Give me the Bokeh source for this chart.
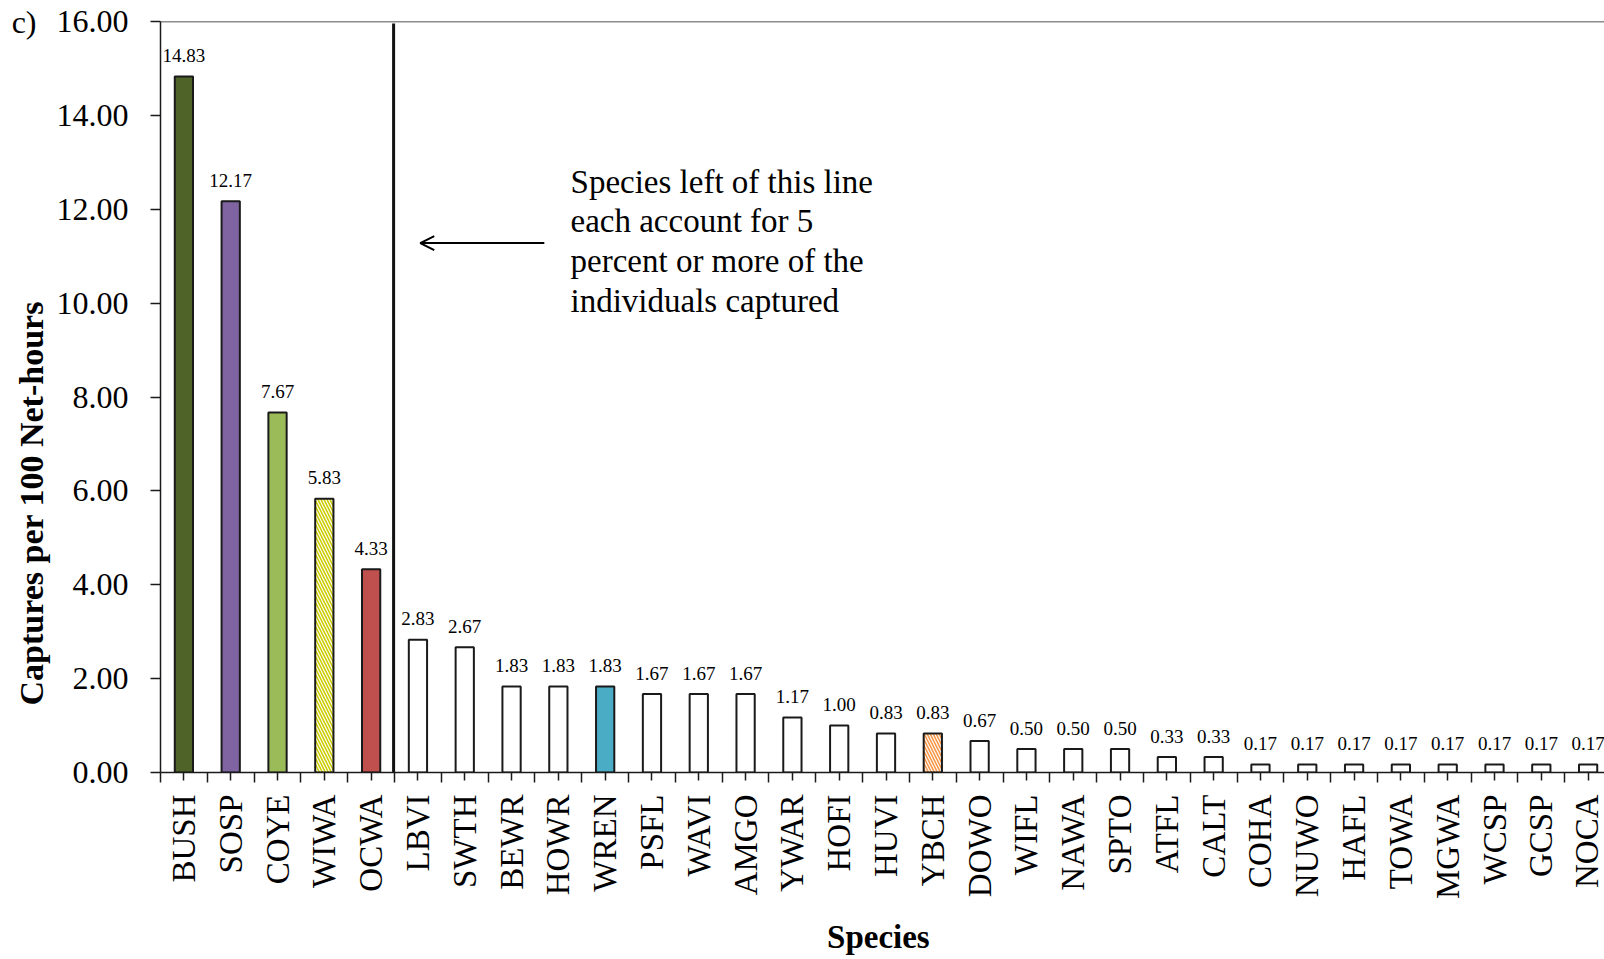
import math

from bokeh.embed import file_html
from bokeh.resources import INLINE
from bokeh.plotting import figure
from bokeh.models import (ColumnDataSource, Range1d, FixedTicker, NumeralTickFormatter,
                          Span, Arrow, OpenHead, Label, LinearAxis)
from bokeh.core.properties import value

# Mist-net capture rates by species (captures per 100 net-hours)
species = ["BUSH", "SOSP", "COYE", "WIWA", "OCWA", "LBVI", "SWTH", "BEWR", "HOWR", "WREN",
           "PSFL", "WAVI", "AMGO", "YWAR", "HOFI", "HUVI", "YBCH", "DOWO", "WIFL", "NAWA",
           "SPTO", "ATFL", "CALT", "COHA", "NUWO", "HAFL", "TOWA", "MGWA", "WCSP", "GCSP", "NOCA"]
captures = [14.83, 12.17, 7.67, 5.83, 4.33, 2.83, 2.67, 1.83, 1.83, 1.83,
            1.67, 1.67, 1.67, 1.17, 1.00, 0.83, 0.83, 0.67, 0.50, 0.50,
            0.50, 0.33, 0.33, 0.17, 0.17, 0.17, 0.17, 0.17, 0.17, 0.17, 0.17]
y_ticks = [0, 2, 4, 6, 8, 10, 12, 14, 16]

# highlighted species get their own fill; the rest are plain white bars
fills = {"BUSH": "#4F6228", "SOSP": "#8064A2", "COYE": "#9BBB59", "OCWA": "#C0504D", "WREN": "#4BACC6"}
hatches = {"WIWA": "#CCCC00", "YBCH": "#F79646"}

note_lines = ["Species left of this line", "each account for 5",
              "percent or more of the", "individuals captured"]

FONT = "Liberation Serif"
NBSP = "\u00a0"

xs = list(range(len(species)))
src = ColumnDataSource(dict(
    x=xs,
    top=captures,
    fill=[fills.get(s, "white") for s in species],
    hatch=[("left_diagonal_line" if s in hatches else " ") for s in species],
    hcolor=[hatches.get(s, "black") for s in species],
    label=[f"{v:.2f}" for v in captures],
))

p = figure(width=1604, height=959, output_backend="svg", toolbar_location=None,
           x_range=Range1d(-0.5, 30.35), y_range=Range1d(0, 16),
           min_border_left=160, min_border_right=0, min_border_top=21, min_border_bottom=187)
p.outline_line_color = None
p.grid.grid_line_color = None
p.background_fill_color = "white"
p.border_fill_color = "white"

p.vbar(x="x", top="top", width=0.39, bottom=0, source=src,
       fill_color="fill", line_color="#1a1a1a", line_width=2,
       hatch_pattern="hatch", hatch_color="hcolor", hatch_weight=1.6, hatch_scale=6)

p.text(x="x", y="top", text="label", source=src, text_align="center",
       text_baseline="alphabetic", y_offset=-21,
       text_font=value(FONT), text_font_size="19px", text_color="black")

# top border of the plotting area
p.add_layout(Span(location=16, dimension="width", line_color="#1a1a1a", line_width=1.5))

# divider after the species that each make up at least 5 percent of captures
p.segment(x0=[4.48], y0=[0], x1=[4.48], y1=[15.96], line_color="#111111", line_width=3)

p.add_layout(Arrow(end=OpenHead(size=14, line_width=2, line_color="black"),
                   x_start=7.70, y_start=11.28, x_end=5.05, y_end=11.28,
                   line_width=2, line_color="black"))

for i, line in enumerate(note_lines):
    p.add_layout(Label(x=8.26, y=12.59 - 0.845 * i, text=line, text_font=FONT,
                       text_font_size="33px", text_baseline="alphabetic",
                       text_align="left", text_color="black"))

# y axis
ya = p.yaxis[0]
ya.ticker = FixedTicker(ticks=y_ticks)
ya.formatter = NumeralTickFormatter(format="0.00")
ya.major_tick_out = 10
ya.major_tick_in = 0
ya.minor_tick_out = 0
ya.minor_tick_in = 0
ya.axis_line_width = 1.5
ya.major_tick_line_width = 1.5
ya.axis_line_color = "#1a1a1a"
ya.major_tick_line_color = "#1a1a1a"
ya.major_label_text_font = FONT
ya.major_label_text_font_size = "32px"
ya.major_label_text_color = "black"
ya.major_label_standoff = 22
ya.axis_label = "Captures per 100 Net-hours" + NBSP * 25
ya.axis_label_text_font = FONT
ya.axis_label_text_font_size = "34px"
ya.axis_label_text_font_style = "bold"
ya.axis_label_text_color = "black"
ya.axis_label_standoff = 4

# panel tag in the top-left corner, carried by a bare outer axis
tag_axis = LinearAxis(ticker=FixedTicker(ticks=[16]), major_label_overrides={16: "c)"},
                      axis_line_color=None, major_tick_line_color=None,
                      minor_tick_line_color=None, major_tick_out=0, major_tick_in=0,
                      minor_tick_out=0, minor_tick_in=0, major_label_standoff=-27,
                      major_label_text_font=FONT, major_label_text_font_size="32px",
                      major_label_text_color="black")
p.add_layout(tag_axis, "left")

# x axis: labels at bar centres, short separators between categories
xa = p.xaxis[0]
xa.ticker = FixedTicker(ticks=xs, minor_ticks=[i - 0.5 for i in range(len(species) + 1)])
xa.major_label_overrides = {i: s for i, s in enumerate(species)}
xa.major_label_orientation = math.pi / 2
xa.major_tick_out = 8
xa.major_tick_in = 0
xa.minor_tick_out = 10
xa.minor_tick_in = 0
xa.axis_line_width = 1.5
xa.major_tick_line_width = 1.5
xa.minor_tick_line_width = 1.5
xa.axis_line_color = "#1a1a1a"
xa.major_tick_line_color = "#1a1a1a"
xa.minor_tick_line_color = "#1a1a1a"
xa.major_label_text_font = FONT
xa.major_label_text_font_size = "33px"
xa.major_label_text_color = "black"
xa.major_label_standoff = 12
xa.axis_label = "Species" + NBSP
xa.axis_label_text_font = FONT
xa.axis_label_text_font_size = "33px"
xa.axis_label_text_font_style = "bold"
xa.axis_label_text_color = "black"
xa.axis_label_standoff = 17

open("out.html", "w").write(file_html(p, INLINE))
